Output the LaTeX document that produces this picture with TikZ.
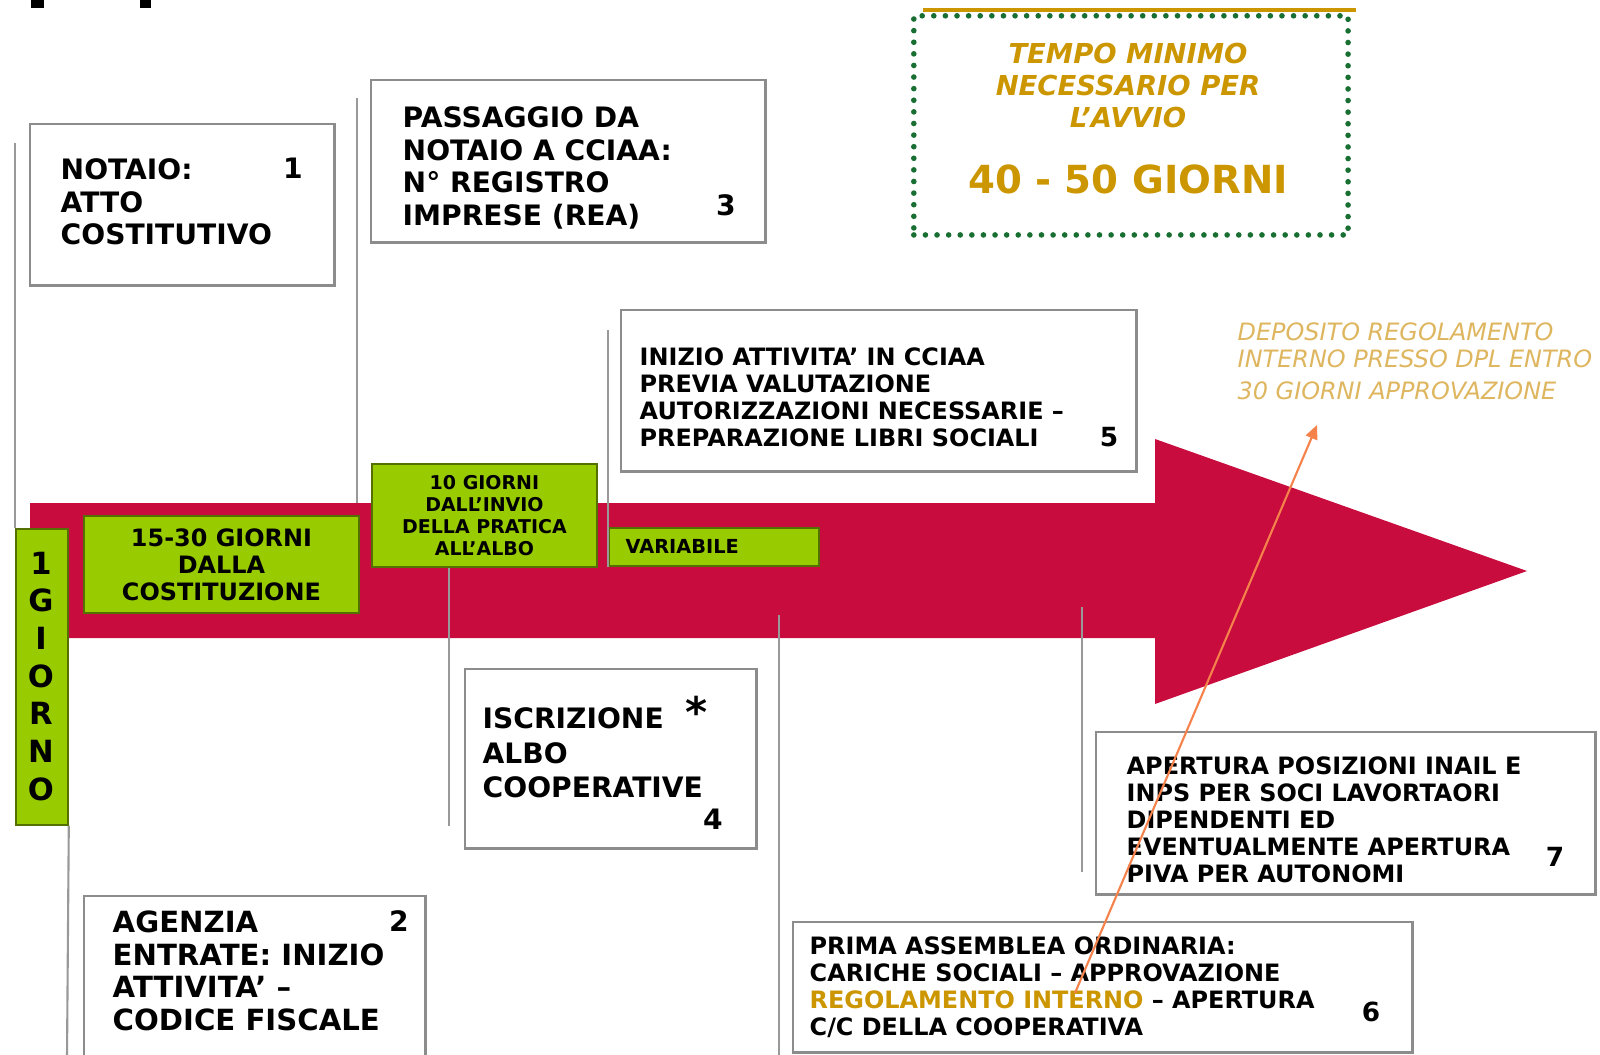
\documentclass[tikz,border=0pt]{standalone}
\usepackage{fontspec}
\setmainfont{DejaVu Sans}
\usetikzlibrary{arrows.meta}

\definecolor{arrowred}{RGB}{200,12,62}
\definecolor{limegreen}{RGB}{153,204,0}
\definecolor{goldtext}{RGB}{204,150,0}
\definecolor{palegold}{RGB}{222,182,95}
\definecolor{dotgreen}{RGB}{25,110,50}
\definecolor{pointer}{RGB}{245,130,75}

\tikzset{
  infobox/.style={draw=black!45, line width=0.7pt, fill=white, inner sep=0pt, anchor=north west},
  greenbox/.style={draw=limegreen!55!black, line width=0.5pt, fill=limegreen, inner sep=0pt, anchor=north west},
  boxtext/.style={inner sep=0pt, anchor=north west, align=left, font=\bfseries\fontsize{8}{9.3}\selectfont},
  smalltext/.style={boxtext, font=\bfseries\fontsize{6.8}{7.7}\selectfont},
  greentext/.style={inner sep=0pt, align=center, font=\bfseries\fontsize{6.8}{7.7}\selectfont},
  stepnum/.style={inner sep=0pt, font=\bfseries\fontsize{8}{9}\selectfont},
  smallnum/.style={stepnum, font=\bfseries\fontsize{7.5}{9}\selectfont},
  guide/.style={draw=black!40, line width=0.6pt},
}

\begin{document}
\begin{tikzpicture}[x=0.01cm, y=-0.01cm]
    \useasboundingbox (0,0) rectangle (1600,1055);

    % Marks at the top edge
    \fill (31,0) rectangle (44,8);
    \fill (140,0) rectangle (151,8);

    % The big arrow
    \fill[arrowred] (30,503) -- (1155,503) -- (1155,439) -- (1527,571)
        -- (1155,704) -- (1155,638) -- (30,638) -- cycle;

    % Step boxes
    \node[infobox, minimum width=3.04cm, minimum height=1.61cm] (notaio) at (29,123) {};
    \node[infobox, minimum width=3.94cm, minimum height=1.62cm] (passaggio) at (370,79) {};
    \node[infobox, minimum width=5.15cm, minimum height=1.61cm] (inizio) at (620,309) {};
    \node[infobox, minimum width=2.91cm, minimum height=1.79cm] (iscrizione) at (464,668) {};
    \node[infobox, minimum width=3.41cm, minimum height=1.65cm] (agenzia) at (83,895) {};
    \node[infobox, minimum width=6.19cm, minimum height=1.30cm] (assemblea) at (792,921) {};
    \node[infobox, minimum width=4.99cm, minimum height=1.62cm] (inail) at (1095,731) {};

    % Green time boxes
    \node[greenbox, minimum width=0.52cm, minimum height=2.96cm] (giorno) at (15,528) {};
    \node[greenbox, minimum width=2.75cm, minimum height=0.97cm] (costituzione) at (83,515) {};
    \node[greenbox, minimum width=2.25cm, minimum height=1.03cm] (invio) at (371,463) {};
    \node[greenbox, minimum width=2.10cm, minimum height=0.38cm] (variabile) at (608,527) {};

    % Box with the total time
    \node[draw=dotgreen, line width=1.6pt, dash pattern=on 0pt off 3.3pt, line cap=round,
        inner sep=0pt, anchor=north west, minimum width=4.34cm, minimum height=2.19cm] (tempo) at (911,13) {};
    \draw[goldtext, line width=1pt] ([shift={(12,-3)}]tempo.north west) -- ([shift={(5,-3)}]tempo.north east);
    \node[inner sep=0pt, anchor=north, align=center, text=goldtext,
        font=\bfseries\itshape\fontsize{7.8}{9.1}\selectfont] (tempotxt) at (1128,42)
        {TEMPO MINIMO\\NECESSARIO PER\\L’AVVIO};
    \node[inner sep=0pt, text=goldtext, font=\bfseries\fontsize{11}{12}\selectfont] (giorni) at (1128,179) {40 - 50 GIORNI};

    % Note on the internal rules
    \node[inner sep=0pt, anchor=north west, align=left, text=palegold,
        font=\itshape\fontsize{6.8}{7.7}\selectfont] (deposito) at (1237,322)
        {DEPOSITO REGOLAMENTO\\INTERNO PRESSO DPL ENTRO\\[1.4pt]30 GIORNI APPROVAZIONE};

    % Texts of the steps
    \node[boxtext] (notaiotxt) at (60,158) {NOTAIO:\\ATTO\\COSTITUTIVO};
    \node[stepnum] (n1) at (293,168) {1};
    \node[boxtext] (passaggiotxt) at (402,106) {PASSAGGIO DA\\NOTAIO A CCIAA:\\N° REGISTRO\\IMPRESE (REA)};
    \node[stepnum] (n3) at (726,205) {3};
    \node[smalltext] (iniziotxt) at (639,347)
        {INIZIO ATTIVITA’ IN CCIAA\\PREVIA VALUTAZIONE\\AUTORIZZAZIONI NECESSARIE –\\PREPARAZIONE LIBRI SOCIALI};
    \node[smallnum] (n5) at (1109,437) {5};
    \node[boxtext, font=\bfseries\fontsize{8}{9.8}\selectfont] (iscrizionetxt) at (482,707) {ISCRIZIONE\\ALBO\\COOPERATIVE};
    \node[inner sep=0pt, font=\bfseries\fontsize{12}{12}\selectfont] (asterisco) at (697,712) {*};
    \node[stepnum] (n4) at (713,819) {4};
    \node[boxtext, font=\bfseries\fontsize{8.3}{9.3}\selectfont] (agenziatxt) at (112,910)
        {AGENZIA\\ENTRATE: INIZIO\\ATTIVITA’ –\\CODICE FISCALE};
    \node[stepnum] (n2) at (399,921) {2};
    \node[smalltext] (assembleatxt) at (809,936)
        {PRIMA ASSEMBLEA ORDINARIA:\\CARICHE SOCIALI – APPROVAZIONE\\
         \textcolor{goldtext}{REGOLAMENTO INTERNO} – APERTURA\\C/C DELLA COOPERATIVA};
    \node[smallnum] (n6) at (1371,1012) {6};
    \node[smalltext] (inailtxt) at (1126,756)
        {APERTURA POSIZIONI INAIL E\\INPS PER SOCI LAVORTAORI\\DIPENDENTI ED\\EVENTUALMENTE APERTURA\\PIVA PER AUTONOMI};
    \node[smallnum] (n7) at (1555,857) {7};

    % Texts of the time boxes
    \foreach \ch [count=\i from 0] in {1,G,I,O,R,N,O}
        \node[inner sep=0pt, font=\bfseries\fontsize{8.7}{9}\selectfont] (giorno-\i) at (41,{563+37.7*\i}) {\ch};
    \node[greentext] (costituzionetxt) at (costituzione.center) {15-30 GIORNI\\DALLA\\COSTITUZIONE};
    \node[greentext, font=\bfseries\fontsize{5.4}{6.2}\selectfont] (inviotxt) at (invio.center)
        {10 GIORNI\\DALL’INVIO\\DELLA PRATICA\\ALL’ALBO};
    \node[inner sep=0pt, anchor=west, font=\bfseries\fontsize{5.5}{6}\selectfont] (variabiletxt) at (625,546) {VARIABILE};

    % Guide lines
    \coordinate (g1) at (15,143);
    \coordinate (g2) at (357,98);
    \coordinate (g2end) at (357,503);
    \coordinate (g3) at (608,330);
    \coordinate (g4) at (449,826);
    \coordinate (g5) at (779,615);
    \coordinate (g5end) at (779,1058);
    \coordinate (g6) at (1082,607);
    \coordinate (g6end) at (1082,872);
    \coordinate (g7) at (67,1058);
    \draw[guide] (g1) -- (giorno.north west);
    \draw[guide] (g2) -- (g2end);
    \draw[guide] (g3) -- (variabile.south west);
    \draw[guide] (invio.south -| g4) -- (g4);
    \draw[guide] (g5) -- (g5end);
    \draw[guide] (g6) -- (g6end);
    \draw[guide] (giorno.south east) -- (g7);

    % Pointer to the note
    \coordinate (ptrstart) at (1075,993);
    \coordinate (ptrend) at (1317,425);
    \draw[pointer, line width=0.6pt, -{Triangle[length=4pt,width=3.5pt]}] (ptrstart) -- (ptrend);
\end{tikzpicture}
\end{document}
